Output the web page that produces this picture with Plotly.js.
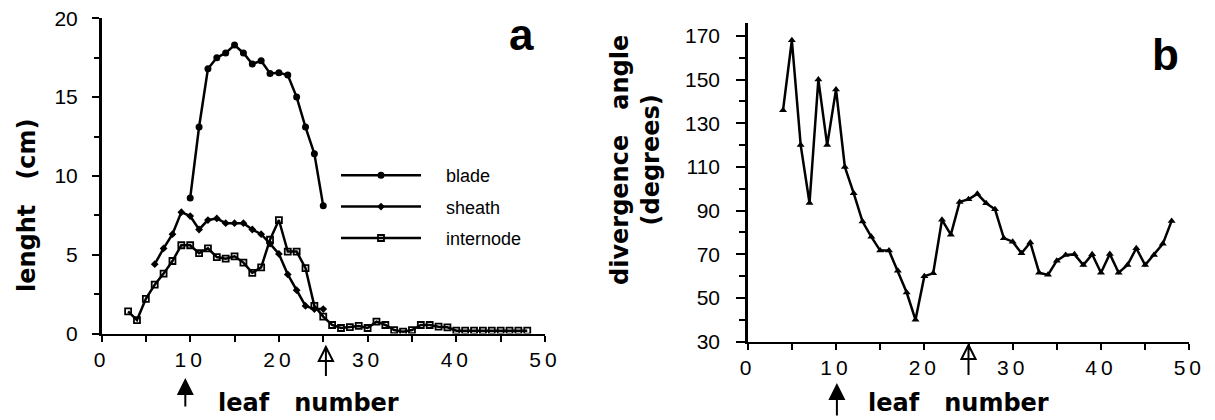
<!DOCTYPE html>
<html>
<head>
<meta charset="utf-8">
<script src="https://cdn.plot.ly/plotly-3.0.1.min.js"></script>
<style>html,body{margin:0;padding:0;background:#fff;}#chart{width:1215px;height:420px;}</style>
</head>
<body>
<div id="chart"></div>
<script>
// ---- Data ----
const bladeLeaf = [10,11,12,13,14,15,16,17,18,19,20,21,22,23,24,25];
const bladeLen  = [8.6,13.1,16.8,17.5,17.8,18.3,17.8,17.1,17.3,16.5,16.55,16.4,15.0,13.1,11.4,8.1];

const sheathLeaf = [6,7,8,9,10,11,12,13,14,15,16,17,18,19,20,21,22,23,24,25];
const sheathLen  = [4.4,5.4,6.3,7.7,7.45,6.6,7.2,7.3,7.0,7.0,7.0,6.6,6.3,5.7,5.05,3.75,2.75,1.75,1.55,1.55];

const internodeLeaf = [3,4,5,6,7,8,9,10,11,12,13,14,15,16,17,18,19,20,21,22,23,24,25,26,27,28,29,30,31,32,33,34,35,36,37,38,39,40,41,42,43,44,45,46,47,48];
const internodeLen  = [1.4,0.85,2.2,3.1,3.8,4.6,5.6,5.6,5.1,5.4,4.85,4.75,4.9,4.5,3.85,4.2,5.95,7.2,5.2,5.2,4.15,1.75,1.07,0.54,0.35,0.4,0.48,0.35,0.75,0.54,0.22,0.12,0.22,0.54,0.54,0.43,0.39,0.18,0.18,0.18,0.18,0.18,0.18,0.18,0.18,0.18];

const divLeaf  = [4,5,6,7,8,9,10,11,12,13,14,15,16,17,18,19,20,21,22,23,24,25,26,27,28,29,30,31,32,33,34,35,36,37,38,39,40,41,42,43,44,45,46,47,48];
const divAngle = [136,168,120,93.5,150,120,145.5,110,98,85,78,71.7,71.7,62.5,52.5,40,60,61.3,85.8,79,94,95.2,97.7,93.4,90.6,77.4,75.8,70.5,75.4,61.6,60.6,67.1,69.7,70,65.1,70,61.6,70.2,61.6,65.1,72.8,65.1,69.7,74.8,85.3];

const xTickVals = [0,10,20,30,40,50];
const xTickText = ['0','10','20','30','40','50'];
const yaTickVals = [0,5,10,15,20];
const ybTickVals = [30,50,70,90,110,130,150,170];

// ---- Style ----
const BLACK = '#000';
const tickFont = {family:'Liberation Sans, Arial, sans-serif', size:21, color:BLACK};
const titleFont = {family:'DejaVu Sans, sans-serif', size:24, color:BLACK, weight:'bold'};
const lineStyle = {color:BLACK, width:2.5};
const NB = '\u00a0\u00a0\u00a0\u00a0';

const traces = [
  {x:bladeLeaf, y:bladeLen, name:NB+'blade', legendgroup:'g1', mode:'lines+markers', xaxis:'x', yaxis:'y',
   line:lineStyle, marker:{symbol:'circle', size:7, color:BLACK}},
  {x:sheathLeaf, y:sheathLen, name:NB+'sheath', legendgroup:'g2', mode:'lines+markers', xaxis:'x', yaxis:'y',
   line:lineStyle, marker:{symbol:'diamond', size:6, color:BLACK}},
  {x:internodeLeaf, y:internodeLen, name:NB+'internode', legendgroup:'g3', mode:'lines+markers', xaxis:'x', yaxis:'y',
   line:lineStyle, marker:{symbol:'square-open', size:6, color:BLACK, line:{width:1.8, color:BLACK}}},
  {x:divLeaf, y:divAngle, name:'divergence angle', mode:'lines+markers', xaxis:'x2', yaxis:'y2',
   showlegend:false, line:lineStyle, marker:{symbol:'triangle-up', size:7, color:BLACK}}
];

const axCommon = {
  showline:true, linecolor:BLACK, linewidth:2.5, mirror:false,
  showgrid:false, zeroline:false, ticks:'outside', tickcolor:BLACK, tickwidth:2,
  tickfont:tickFont, fixedrange:true
};

const layout = {
  width:1215, height:420,
  margin:{l:0, r:0, t:0, b:0},
  paper_bgcolor:'#fff', plot_bgcolor:'#fff',
  showlegend:true,
  legend:{x:336/1215, y:1-157/420, xanchor:'left', yanchor:'top', traceorder:'grouped',
          font:{family:'Liberation Sans, Arial, sans-serif', size:18, color:BLACK},
          itemwidth:80, bgcolor:'rgba(0,0,0,0)', borderwidth:0, tracegroupgap:5},
  xaxis:Object.assign({}, axCommon, {domain:[101.5/1215, 545/1215], range:[0,50], anchor:'y',
          tickvals:xTickVals, ticktext:xTickText, ticklen:6, ticklabelstandoff:0,
          minor:{dtick:5, tick0:0, ticklen:6, tickwidth:2, tickcolor:BLACK, ticks:'outside', showgrid:false}}),
  yaxis:Object.assign({}, axCommon, {domain:[1-333.5/420, 1-18.3/420], range:[0,20], anchor:'x',
          tickvals:yaTickVals, ticklen:7, ticklabelstandoff:10,
          minor:{dtick:2.5, tick0:0, ticklen:5, tickwidth:2, tickcolor:BLACK, ticks:'outside', showgrid:false}}),
  xaxis2:Object.assign({}, axCommon, {domain:[747.7/1215, 1189.3/1215], range:[0,50], anchor:'y2',
          tickvals:xTickVals, ticktext:xTickText, ticklen:6, ticklabelstandoff:0,
          minor:{dtick:5, tick0:0, ticklen:6, tickwidth:2, tickcolor:BLACK, ticks:'outside', showgrid:false}}),
  yaxis2:Object.assign({}, axCommon, {domain:[1-341.7/420, 1-22.8/420], range:[30,176], anchor:'x2',
          tickvals:ybTickVals, ticklen:9, ticklabelstandoff:12,
          minor:{dtick:10, tick0:30, ticklen:6, tickwidth:2, tickcolor:BLACK, ticks:'outside', showgrid:false}}),
  annotations:[
    {text:'lenght\u00a0\u00a0\u00a0(cm)', xref:'paper', yref:'paper', x:27/1215, y:1-205/420,
     textangle:-90, showarrow:false, font:titleFont, xanchor:'center', yanchor:'middle'},
    {text:'leaf\u00a0\u00a0\u00a0number', xref:'paper', yref:'paper', x:308/1215, y:1-403/420,
     showarrow:false, font:titleFont, xanchor:'center', yanchor:'middle'},
    {text:'leaf\u00a0\u00a0\u00a0number', xref:'paper', yref:'paper', x:958/1215, y:1-403/420,
     showarrow:false, font:titleFont, xanchor:'center', yanchor:'middle'},
    {text:'divergence\u00a0\u00a0\u00a0angle<br>(degrees)', xref:'paper', yref:'paper', x:635/1215, y:1-160/420,
     textangle:-90, showarrow:false, font:titleFont, xanchor:'center', yanchor:'middle'},
    {text:'a', xref:'paper', yref:'paper', x:521/1215, y:1-34/420, showarrow:false,
     font:{family:'Liberation Sans, Arial, sans-serif', size:44, color:BLACK, weight:'bold'}, xanchor:'center', yanchor:'middle'},
    {text:'b', xref:'paper', yref:'paper', x:1165/1215, y:1-55/420, showarrow:false,
     font:{family:'Liberation Sans, Arial, sans-serif', size:44, color:BLACK, weight:'bold'}, xanchor:'center', yanchor:'middle'},
    // solid arrows under leaf 10
    {text:'', xref:'x', yref:'paper', x:9.45, y:1-378/420, ax:0, ay:30, showarrow:true,
     arrowhead:2, arrowsize:1.7, arrowwidth:2, arrowcolor:BLACK},
    {text:'', xref:'x2', yref:'paper', x:10.1, y:1-383/420, ax:0, ay:34, showarrow:true,
     arrowhead:2, arrowsize:1.7, arrowwidth:2, arrowcolor:BLACK}
  ],
  shapes:[
    // open arrows at leaf 25
    {type:'path', xref:'x', yref:'paper', path:'M 24.5 '+(1-361/420)+' L 25.3 '+(1-347/420)+' L 26.1 '+(1-361/420)+' Z', line:{color:BLACK, width:2}},
    {type:'line', xref:'x', yref:'paper', x0:25.3, x1:25.3, y0:1-347/420, y1:1-376/420, line:{color:BLACK, width:2}},
    {type:'path', xref:'x2', yref:'paper', path:'M 24.2 '+(1-359/420)+' L 25 '+(1-345/420)+' L 25.8 '+(1-359/420)+' Z', line:{color:BLACK, width:2}},
    {type:'line', xref:'x2', yref:'paper', x0:25, x1:25, y0:1-345/420, y1:1-375/420, line:{color:BLACK, width:2}}
  ]
};

Plotly.newPlot('chart', traces, layout, {staticPlot:true, displayModeBar:false}).then(function(gd){
  gd.querySelectorAll('.xtick text, .x2tick text').forEach(function(t){ t.style.letterSpacing = '4px'; });
});
</script>
</body>
</html>
